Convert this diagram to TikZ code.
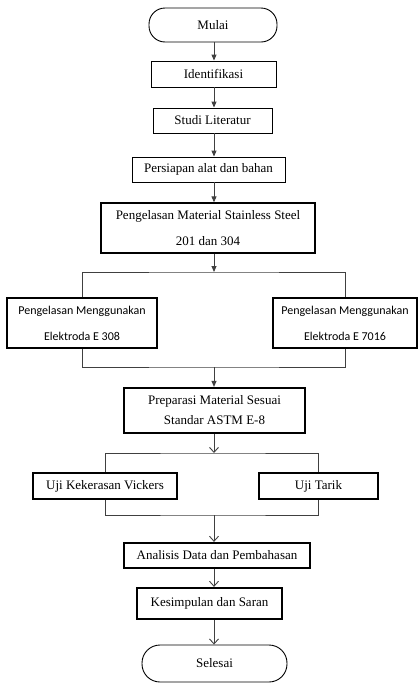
\documentclass[tikz,border=0pt]{standalone}
\usepackage{fontspec}
\setmainfont{Liberation Serif}
\newfontfamily\calfont{Carlito}
\usetikzlibrary{arrows.meta}
\begin{document}
\begin{tikzpicture}[x=1pt,y=-1pt,
  box/.style={draw=black, line width=0.9pt, inner sep=0pt, align=center, font=\fontsize{13}{26}\selectfont},
  thick box/.style={box, line width=2.2pt},
  term/.style={box, rounded corners=16pt},
  cbox/.style={thick box, font=\calfont\fontsize{12}{26}\selectfont},
  conn/.style={draw=black!75, line width=0.9pt},
  farr/.style={conn, -{Triangle[length=6pt,width=5pt]}},
  oarr/.style={conn, -{Straight Barb[length=5pt,width=9pt,line width=0.9pt]}}
]
\useasboundingbox (0,0) rectangle (418,683);
\coordinate (ax) at (214,0);

\node[term, minimum width=128pt, minimum height=34pt] (mulai) at (213,25) {Mulai};
\node[box, minimum width=125pt, minimum height=26pt] (ident) at (213.5,74) {Identifikasi};
\node[box, minimum width=119pt, minimum height=25pt] (studi) at (212.5,120.5) {Studi Literatur};
\node[box, minimum width=153pt, minimum height=25pt] (persiapan) at (208.5,169.5) {Persiapan alat dan bahan};
\node[box, line width=1.3pt, minimum width=214pt, minimum height=50pt] (las) at (208,228) {Pengelasan Material Stainless Steel\\201 dan 304};
\node[cbox, minimum width=150pt, minimum height=50pt] (e308) at (82,323) {Pengelasan Menggunakan\\Elektroda E 308};
\node[cbox, minimum width=144pt, minimum height=50pt] (e7016) at (345,323) {Pengelasan Menggunakan\\Elektroda E 7016};
\node[thick box, minimum width=181pt, minimum height=45pt, font=\fontsize{13}{20}\selectfont] (prep) at (214.5,410.5) {Preparasi Material Sesuai\\Standar ASTM E-8};
\node[thick box, minimum width=144pt, minimum height=26pt] (vick) at (105,486) {Uji Kekerasan Vickers};
\node[thick box, minimum width=119pt, minimum height=26pt] (tarik) at (318.5,486) {Uji Tarik};
\node[thick box, minimum width=186pt, minimum height=25pt] (analisis) at (217,555.5) {Analisis Data dan Pembahasan};
\node[thick box, minimum width=145pt, minimum height=31pt] (kesimpulan) at (209.5,603.5) {Kesimpulan dan Saran};
\node[term, minimum width=145pt, minimum height=37pt, rounded corners=18pt] (selesai) at (214.5,663.5) {Selesai};

\coordinate (b1) at (214,272);
\coordinate (m1) at (214,367);
\coordinate (b2) at (214,453);
\coordinate (m2) at (214,515);

\draw[farr] (mulai.south -| ax) -- (ident.north -| ax);
\draw[farr] (ident.south -| ax) -- (studi.north -| ax);
\draw[farr] (studi.south -| ax) -- (persiapan.north -| ax);
\draw[farr] (persiapan.south -| ax) -- (las.north -| ax);
\draw[farr] (las.south -| ax) -- (b1);
\draw[conn] (e308.north) |- (b1) -| (e7016.north);
\draw[conn] (e308.south) |- (m1) -| (e7016.south);
\draw[farr] (m1) -- (prep.north -| ax);
\draw[oarr] (prep.south -| ax) -- (b2);
\draw[conn] (vick.north) |- (b2) -| (tarik.north);
\draw[conn] (vick.south) |- (m2) -| (tarik.south);
\draw[oarr] (m2) -- (analisis.north -| ax);
\draw[oarr] (analisis.south -| ax) -- (kesimpulan.north -| ax);
\draw[oarr] (kesimpulan.south -| ax) -- (selesai.north -| ax);
\end{tikzpicture}
\end{document}
